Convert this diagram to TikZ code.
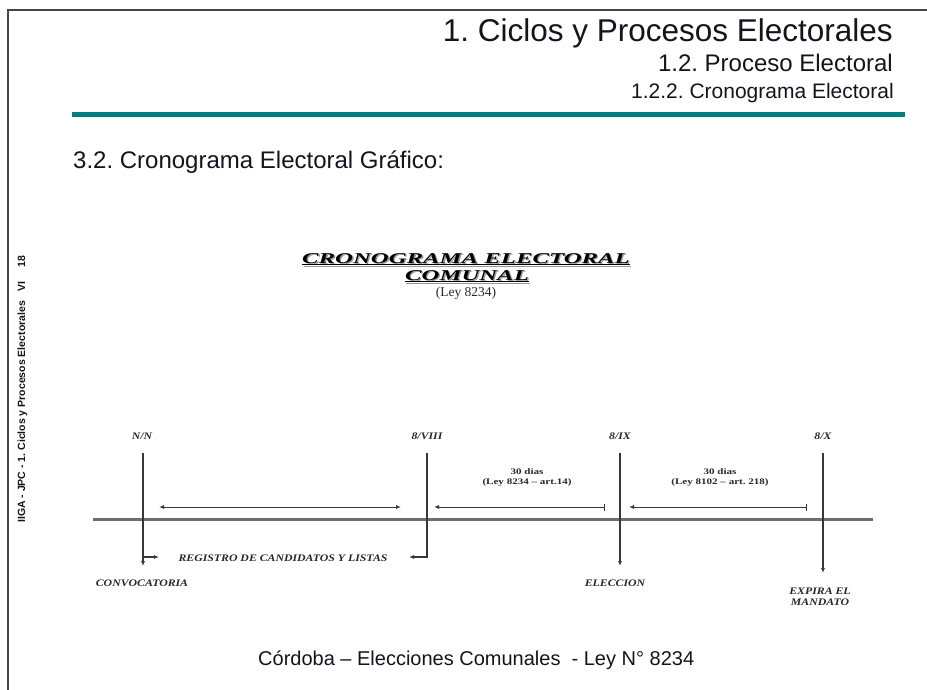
\documentclass[tikz,border=0pt]{standalone}
\usepackage{fontspec}
\setmainfont{Liberation Serif}
\newfontfamily\arialf{Liberation Sans}
\usetikzlibrary{arrows.meta}
\definecolor{framec}{RGB}{70,70,70}
\definecolor{tealc}{RGB}{0,128,128}
\definecolor{txtc}{RGB}{20,20,30}
\definecolor{tlc}{RGB}{55,55,55}
\definecolor{mainc}{RGB}{110,110,110}
\definecolor{lblc}{RGB}{40,40,40}
\definecolor{shadc}{RGB}{150,150,150}
\newcommand{\crtitle}[1]{\scalebox{1.65}[1]{\makebox[0pt][l]{\raisebox{-1.2pt}{\hspace{0.8pt}\textcolor{shadc}{\underline{#1}}}}\underline{#1}}}
\newcommand{\wideT}[1]{\scalebox{1.18}[1]{#1}}
\newcommand{\wideN}[1]{\scalebox{1.3}[1]{#1}}
\frenchspacing
\begin{document}
\begin{tikzpicture}[x=1pt,y=-1pt,
  frame/.style={line width=2.5pt, draw=framec},
  hdr/.style={font=\arialf, inner sep=0pt, text=txtc},
  tl/.style={line width=2pt, draw=tlc},
  ah/.style={-{Latex[length=5pt,width=4pt]}},
  lbl/.style={font=\fontsize{10}{11}\selectfont\bfseries\itshape, inner sep=0pt, text=lblc},
  note/.style={font=\fontsize{8.5}{9}\selectfont\bfseries, inner sep=0pt, text=lblc},
  ctitle/.style={font=\fontsize{15}{16}\selectfont\bfseries\itshape, inner sep=0pt, anchor=base, text=black}
]
\useasboundingbox (0,0) rectangle (927,690);
% frame
\coordinate (fTL) at (8,10);
\coordinate (fTR) at (927,10);
\coordinate (fBL) at (8,690);
\draw[frame] (fBL) -- (fTL) -- (fTR);
% headers
\node[hdr, anchor=base east, font=\arialf\fontsize{31.5}{34}\selectfont] (t1) at (893,42) {1. Ciclos y Procesos Electorales};
\node[hdr, anchor=base east, font=\arialf\fontsize{24}{26}\selectfont] (t2) at (893,72) {1.2. Proceso Electoral};
\node[hdr, anchor=base east, font=\arialf\fontsize{21}{23}\selectfont] (t3) at (894,99) {1.2.2. Cronograma Electoral};
\coordinate (tealL) at (72,115);
\coordinate (tealR) at (905,115);
\draw[line width=5pt, draw=tealc] (tealL) -- (tealR);
\node[hdr, anchor=base west, font=\arialf\fontsize{24}{26}\selectfont] (sec) at (73,169) {3.2. Cronograma Electoral Gráfico:};
% side text
\node[inner sep=0pt, rotate=90, anchor=base west, font=\arialf\bfseries\fontsize{10.5}{12}\selectfont, text=txtc] (side) at (25,523)
  {IIGA - JPC - 1. Ciclos y Procesos Electorales\hspace{10pt}VI\hspace{14pt}18};
% chart title with shadow
\node[ctitle] (ct) at (466,263) {\crtitle{CRONOGRAMA ELECTORAL}};
\node[ctitle] (cu) at (467,280) {\crtitle{COMUNAL}};
\node[inner sep=0pt, anchor=base, font=\fontsize{13.5}{15}\selectfont, text=lblc] (ley) at (466,296) {(Ley 8234)};
% timeline
\coordinate (mL) at (93,519);
\coordinate (mR) at (873,519);
\draw[line width=3pt, draw=mainc] (mL) -- (mR);
\node[lbl] (nn) at (142,436) {\wideT{N/N}};
\node[lbl] (d8) at (427,436) {\wideT{8/VIII}};
\node[lbl] (d9) at (620,436) {\wideT{8/IX}};
\node[lbl] (d10) at (823,436) {\wideT{8/X}};
\coordinate (nnT) at (143,453);
\coordinate (nnB) at (143,566);
\coordinate (nnJ) at (143,557);
\coordinate (nnR) at (159,557);
\coordinate (v8T) at (427,453);
\coordinate (v8J) at (427,557);
\coordinate (v8L) at (409,557);
\coordinate (v9T) at (620,453);
\coordinate (v9B) at (620,566);
\coordinate (vXT) at (823,453);
\coordinate (vXB) at (823,573);
\draw[tl, ah] (nnT) -- (nnB);
\draw[tl, ah] (nnJ) -- (nnR);
\draw[tl, ah] (v8T) -- (v8J) -- (v8L);
\draw[tl, ah] (v9T) -- (v9B);
\draw[tl, ah] (vXT) -- (vXB);
% upper arrows
\coordinate (a1L) at (159,507);
\coordinate (a1R) at (401,507);
\coordinate (a2R) at (605,507);
\coordinate (a2L) at (434,507);
\coordinate (a3R) at (807,507);
\coordinate (a3L) at (629,507);
\draw[line width=1pt, draw=tlc, {Latex[length=5pt,width=4pt]}-{Latex[length=5pt,width=4pt]}] (a1L) -- (a1R);
\draw[line width=1pt, draw=tlc, {Bar[width=7pt]}-{Latex[length=5pt,width=4pt]}] (a2R) -- (a2L);
\draw[line width=1pt, draw=tlc, {Bar[width=7pt]}-{Latex[length=5pt,width=4pt]}] (a3R) -- (a3L);
\node[note] (n1a) at (527,472) {\wideN{30 dias}};
\node[note] (n1b) at (527,482) {\wideN{(Ley 8234 -- art.14)}};
\node[note] (n2a) at (720,472) {\wideN{30 dias}};
\node[note] (n2b) at (720,482) {\wideN{(Ley 8102 -- art. 218)}};
% lower labels
\node[lbl] (reg) at (283,558) {\wideT{REGISTRO DE CANDIDATOS Y LISTAS}};
\node[lbl] (conv) at (142,583) {\wideT{CONVOCATORIA}};
\node[lbl] (elec) at (615,583) {\wideT{ELECCION}};
\node[lbl] (exp1) at (820,591) {\wideT{EXPIRA EL}};
\node[lbl] (exp2) at (820,602) {\wideT{MANDATO}};
% footer
\node[hdr, anchor=base west, font=\arialf\fontsize{20}{22}\selectfont] (foot) at (258,665) {Córdoba – Elecciones Comunales \ - Ley N° 8234};
\end{tikzpicture}
\end{document}
